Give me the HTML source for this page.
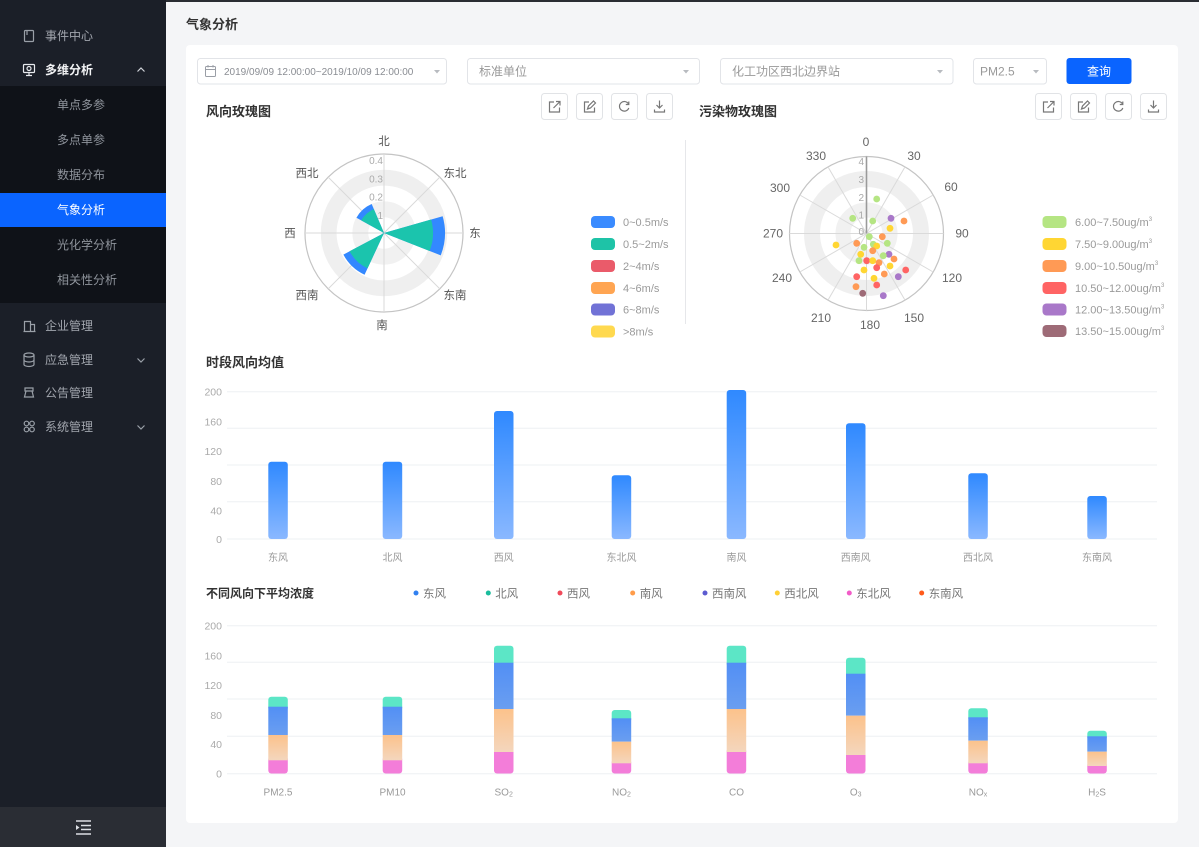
<!DOCTYPE html>
<html><head><meta charset="utf-8">
<style>
html,body{margin:0;padding:0;width:1199px;height:847px;overflow:hidden;background:#f4f5f7;}
svg{display:block;}
text{font-family:"Liberation Sans","Noto Sans CJK SC",sans-serif;}
</style></head><body>
<svg width="1199" height="847" viewBox="0 0 1199 847" xmlns="http://www.w3.org/2000/svg">
<defs>
 <linearGradient id="gb" x1="0" y1="0" x2="0" y2="1"><stop offset="0" stop-color="#2f89ff"/><stop offset="1" stop-color="#8ab8ff"/></linearGradient>
 <linearGradient id="gp" x1="0" y1="0" x2="0" y2="1"><stop offset="0" stop-color="#fcc28b"/><stop offset="1" stop-color="#f4d6bd"/></linearGradient>
 <linearGradient id="gbl" x1="0" y1="0" x2="0" y2="1"><stop offset="0" stop-color="#528ff5"/><stop offset="1" stop-color="#6a9ef0"/></linearGradient>
</defs>
<rect width="1199" height="847" fill="#f4f5f7"/>
<rect width="1199" height="2" fill="#2a2d33"/>

<!-- SIDEBAR -->
<rect x="0" y="0" width="166" height="847" fill="#1b1f28"/>
<rect x="0" y="86" width="166" height="217" fill="#0f1218"/>
<rect x="0" y="193" width="166" height="34" fill="#0a64ff"/>
<rect x="0" y="807" width="166" height="40" fill="#2a2d34"/>
<g fill="none" stroke="#9aa0a8" stroke-width="1.2">
 <rect x="24.5" y="30.5" width="9" height="11" rx="1"/>
 <line x1="27" y1="30.5" x2="27" y2="35"/>
 <rect x="23.5" y="64.5" width="11" height="8" rx="1" stroke="#e8eaee"/>
 <path d="M26 75.5h6M29 72.5v3" stroke="#e8eaee"/>
 <circle cx="29" cy="68.5" r="2" stroke="#e8eaee"/>
 <path d="M24.5 331.5v-10h6v10M30.5 324.5h4v7M23.5 331.5h12"/>
 <ellipse cx="29" cy="355" rx="5" ry="2"/><path d="M24 355v9.5c0 1 2.2 2 5 2s5-1 5-2V355M24 360c0 1 2.2 2 5 2s5-1 5-2"/>
 <path d="M25 388h8v3h-8zM26 391l-1.5 6h9L32 391"/>
 <circle cx="26.5" cy="423.5" r="2.3"/><circle cx="32" cy="423.5" r="2.3"/><circle cx="26.5" cy="429.5" r="2.3"/><circle cx="32" cy="429.5" r="2.3"/>
 <path d="M137.5 71.5l3.5-3.5 3.5 3.5" stroke="#cfd2d8"/>
 <path d="M137.5 358.5l3.5 3.5 3.5-3.5"/>
 <path d="M137.5 425.5l3.5 3.5 3.5-3.5"/>
</g>
<g font-size="12" fill="#a2a6ae">
 <text x="45" y="40">事件中心</text>
 <text x="45" y="74" fill="#f2f3f5" font-weight="bold">多维分析</text>
 <text x="57" y="109" fill="#8f949c">单点多参</text>
 <text x="57" y="144" fill="#8f949c">多点单参</text>
 <text x="57" y="179" fill="#8f949c">数据分布</text>
 <text x="57" y="214" fill="#ffffff">气象分析</text>
 <text x="57" y="249" fill="#8f949c">光化学分析</text>
 <text x="57" y="284" fill="#8f949c">相关性分析</text>
 <text x="45" y="330">企业管理</text>
 <text x="45" y="364">应急管理</text>
 <text x="45" y="397">公告管理</text>
 <text x="45" y="431">系统管理</text>
</g>
<g stroke="#dcdfe4" stroke-width="1.5">
 <line x1="76" y1="821" x2="91" y2="821"/>
 <line x1="81" y1="825.5" x2="91" y2="825.5"/>
 <line x1="81" y1="829.5" x2="91" y2="829.5"/>
 <line x1="76" y1="834" x2="91" y2="834"/>
</g>
<polygon points="76,825 79.5,827.5 76,830" fill="#dcdfe4"/>

<!-- PAGE TITLE -->
<text x="186" y="29" font-size="13" font-weight="bold" fill="#333">气象分析</text>

<!-- CARD -->
<rect x="186" y="45" width="992" height="778" rx="4" fill="#ffffff"/>

<!-- FILTER BAR -->
<g fill="#fff" stroke="#e2e4e8">
 <rect x="197.5" y="58.5" width="249" height="25.5" rx="3"/>
 <rect x="467.5" y="58.5" width="232" height="25.5" rx="3"/>
 <rect x="720.5" y="58.5" width="232.5" height="25.5" rx="3"/>
 <rect x="973.5" y="58.5" width="73" height="25.5" rx="3"/>
</g>
<g fill="none" stroke="#9a9ea6" stroke-width="1">
 <rect x="205.5" y="66.5" width="10" height="10" rx="1"/>
 <line x1="205.5" y1="69.5" x2="215.5" y2="69.5"/>
 <line x1="208" y1="65" x2="208" y2="67.5"/><line x1="213" y1="65" x2="213" y2="67.5"/>
</g>
<g fill="#b8bbc0">
 <polygon points="434,70 440,70 437,73.5"/>
 <polygon points="683,70 689,70 686,73.5"/>
 <polygon points="937,70 943,70 940,73.5"/>
 <polygon points="1033,70 1039,70 1036,73.5"/>
</g>
<text x="224" y="75" font-size="10" fill="#8a8d93">2019/09/09 12:00:00~2019/10/09 12:00:00</text>
<text x="479" y="75.5" font-size="12" fill="#999">标准单位</text>
<text x="732" y="75.5" font-size="12" fill="#999">化工功区西北边界站</text>
<text x="980" y="75.5" font-size="12" fill="#999">PM2.5</text>
<rect x="1066.5" y="58" width="65" height="26" rx="3" fill="#0a64ff"/>
<text x="1099" y="75.5" font-size="12" fill="#fff" text-anchor="middle">查询</text>

<!-- TITLES -->
<text x="206" y="116" font-size="13" font-weight="bold" fill="#333">风向玫瑰图</text>
<text x="699" y="116" font-size="13" font-weight="bold" fill="#333">污染物玫瑰图</text>

<!-- TOOL BUTTONS -->
<g fill="#fff" stroke="#e1e3e6">
 <rect x="541.5" y="93.5" width="26" height="26" rx="3"/>
 <rect x="576.5" y="93.5" width="26" height="26" rx="3"/>
 <rect x="611.5" y="93.5" width="26" height="26" rx="3"/>
 <rect x="646.5" y="93.5" width="26" height="26" rx="3"/>
 <rect x="1035.5" y="93.5" width="26" height="26" rx="3"/>
 <rect x="1070.5" y="93.5" width="26" height="26" rx="3"/>
 <rect x="1105.5" y="93.5" width="26" height="26" rx="3"/>
 <rect x="1140.5" y="93.5" width="26" height="26" rx="3"/>
</g>
<g fill="none" stroke="#777" stroke-width="1.2">
 <g id="ic1"><path d="M554 102h-4.5v10h10v-4.5M553.5 108l6-6M556 101.5h4v4"/></g>
 <path d="M589 102h-4.5v10h10v-4.5M587.5 109l1-3 5-5 2 2-5 5z"/>
 <path d="M628.5 104a4.8 4.8 0 1 0 0.3 4M628.8 101.5v3h-3"/>
 <path d="M659.5 100.5v7.5M656.5 105l3 3 3-3M654.5 109.5v2.5h10v-2.5"/>
 <path d="M1048 102h-4.5v10h10v-4.5M1047.5 108l6-6M1050 101.5h4v4"/>
 <path d="M1083 102h-4.5v10h10v-4.5M1081.5 109l1-3 5-5 2 2-5 5z"/>
 <path d="M1122.5 104a4.8 4.8 0 1 0 0.3 4M1122.8 101.5v3h-3"/>
 <path d="M1153.5 100.5v7.5M1150.5 105l3 3 3-3M1148.5 109.5v2.5h10v-2.5"/>
</g>

<line x1="685.5" y1="140" x2="685.5" y2="324" stroke="#e6e7ea"/>

<!-- WIND ROSE -->
<circle cx="384" cy="233" r="79" fill="#fff" stroke="#c4c4c4" stroke-width="1.2"/>
<circle cx="384" cy="233" r="55.3" fill="none" stroke="#efefef" stroke-width="15.8"/>
<circle cx="384" cy="233" r="23.7" fill="none" stroke="#f1f1f1" stroke-width="15.8"/>
<g stroke="#dadada" stroke-width="1">
 <line x1="384" y1="154" x2="384" y2="312"/>
 <line x1="305" y1="233" x2="463" y2="233"/>
 <line x1="439.86" y1="177.14" x2="328.14" y2="288.86"/>
 <line x1="328.14" y1="177.14" x2="439.86" y2="288.86"/>
</g>
<g font-size="10" fill="#aaa" text-anchor="end">
 <text x="383" y="164">0.4</text>
 <text x="383" y="182.5">0.3</text>
 <text x="383" y="200.5">0.2</text>
 <text x="383" y="219">1</text>
</g>
<path d="M384,233 L442.64,216.19 A61,61 0 0 1 440.75,255.36 Z" fill="#3388ff"/>
<path d="M384,233 L431.10,219.50 A49,49 0 0 1 429.59,250.96 Z" fill="#1bc4ad"/>
<path d="M384,233 L371.69,204.0 A31.5,31.5 0 0 0 356.45,217.73 Z" fill="#3388ff"/>
<path d="M384,233 L373.84,209.07 A26,26 0 0 0 361.26,220.40 Z" fill="#1bc4ad"/>
<path d="M384,233 L343.39,254.60 A46,46 0 0 0 364.56,274.69 Z" fill="#3388ff"/>
<path d="M384,233 L349.57,251.31 A39,39 0 0 0 367.52,268.35 Z" fill="#1bc4ad"/>
<g font-size="11.5" fill="#555" text-anchor="middle">
 <text x="384" y="145">北</text>
 <text x="455" y="177">东北</text>
 <text x="475" y="237">东</text>
 <text x="455" y="299">东南</text>
 <text x="382" y="329">南</text>
 <text x="307" y="299">西南</text>
 <text x="290" y="237">西</text>
 <text x="307" y="177">西北</text>
</g>
<!-- wind legend -->
<g>
 <rect x="591" y="216" width="24" height="12" rx="4" fill="#3a8bff"/>
 <rect x="591" y="238" width="24" height="12" rx="4" fill="#1ec3a7"/>
 <rect x="591" y="260" width="24" height="12" rx="4" fill="#ea5b6a"/>
 <rect x="591" y="282" width="24" height="12" rx="4" fill="#ffa552"/>
 <rect x="591" y="303.5" width="24" height="12" rx="4" fill="#7172d6"/>
 <rect x="591" y="325.5" width="24" height="12" rx="4" fill="#ffd94f"/>
</g>
<g font-size="11" fill="#9a9a9a">
 <text x="623" y="226">0~0.5m/s</text>
 <text x="623" y="248">0.5~2m/s</text>
 <text x="623" y="270">2~4m/s</text>
 <text x="623" y="292">4~6m/s</text>
 <text x="623" y="313.5">6~8m/s</text>
 <text x="623" y="335.5">&gt;8m/s</text>
</g>

<!-- POLLUTANT ROSE -->
<circle cx="866.5" cy="233.5" r="77" fill="#fff" stroke="#c4c4c4" stroke-width="1.2"/>
<circle cx="866.5" cy="233.5" r="54.5" fill="none" stroke="#efefef" stroke-width="16"/>
<circle cx="866.5" cy="233.5" r="23.5" fill="none" stroke="#f1f1f1" stroke-width="15"/>
<g stroke="#dadada" stroke-width="1">
 <line x1="866.5" y1="156.5" x2="866.5" y2="310.5"/>
 <line x1="905" y1="166.82" x2="828" y2="300.18"/>
 <line x1="933.18" y1="195" x2="799.82" y2="272"/>
 <line x1="943.5" y1="233.5" x2="789.5" y2="233.5"/>
 <line x1="933.18" y1="272" x2="799.82" y2="195"/>
 <line x1="905" y1="300.18" x2="828" y2="166.82"/>
</g>
<line x1="866.5" y1="233.5" x2="866.5" y2="156.5" stroke="#9a9a9a" stroke-width="1.6"/>
<g font-size="10" fill="#aaa" text-anchor="end">
 <text x="864" y="165">4</text>
 <text x="864" y="183">3</text>
 <text x="864" y="201">2</text>
 <text x="864" y="218.5">1</text>
 <text x="864" y="235">0</text>
</g>
<g font-size="12" fill="#666" text-anchor="middle">
 <text x="866" y="146">0</text>
 <text x="914" y="160">30</text>
 <text x="951" y="191">60</text>
 <text x="962" y="237.5">90</text>
 <text x="952" y="282">120</text>
 <text x="914" y="322">150</text>
 <text x="870" y="329">180</text>
 <text x="821" y="322">210</text>
 <text x="782" y="282">240</text>
 <text x="773" y="237.5">270</text>
 <text x="780" y="192">300</text>
 <text x="816" y="160">330</text>
</g>
<g>
 <circle cx="876.7" cy="199" r="3.4" fill="#b5e583"/>
 <circle cx="852.7" cy="218.3" r="3.4" fill="#b5e583"/>
 <circle cx="872.7" cy="221" r="3.4" fill="#b5e583"/>
 <circle cx="891" cy="218.3" r="3.4" fill="#a978c9"/>
 <circle cx="904" cy="221" r="3.4" fill="#ff9a55"/>
 <circle cx="890" cy="228.3" r="3.4" fill="#ffd633"/>
 <circle cx="869.3" cy="236.7" r="3.4" fill="#b5e583"/>
 <circle cx="882.3" cy="236.7" r="3.4" fill="#ff9a55"/>
 <circle cx="836" cy="245" r="3.4" fill="#ffd633"/>
 <circle cx="856.7" cy="243.3" r="3.4" fill="#ff9a55"/>
 <circle cx="864" cy="247.3" r="3.4" fill="#b5e583"/>
 <circle cx="873.3" cy="244.3" r="3.4" fill="#b5e583"/>
 <circle cx="876.7" cy="246" r="3.4" fill="#ffd633"/>
 <circle cx="887.3" cy="243.3" r="3.4" fill="#b5e583"/>
 <circle cx="872.7" cy="250.7" r="3.4" fill="#ff9a55"/>
 <circle cx="889" cy="254.3" r="3.4" fill="#a978c9"/>
 <circle cx="860.7" cy="254.3" r="3.4" fill="#ffd633"/>
 <circle cx="859" cy="260.7" r="3.4" fill="#b5e583"/>
 <circle cx="866.7" cy="260.7" r="3.4" fill="#ff6464"/>
 <circle cx="872.7" cy="260.7" r="3.4" fill="#ffd633"/>
 <circle cx="879" cy="262.7" r="3.4" fill="#ff9a55"/>
 <circle cx="883.3" cy="255.7" r="3.4" fill="#b5e583"/>
 <circle cx="894" cy="259" r="3.4" fill="#ff9a55"/>
 <circle cx="890" cy="266" r="3.4" fill="#ffd633"/>
 <circle cx="876.7" cy="267.7" r="3.4" fill="#ff6464"/>
 <circle cx="864" cy="270" r="3.4" fill="#ffd633"/>
 <circle cx="884.3" cy="274" r="3.4" fill="#ff9a55"/>
 <circle cx="905.7" cy="270" r="3.4" fill="#ff6464"/>
 <circle cx="898.3" cy="276.7" r="3.4" fill="#a978c9"/>
 <circle cx="856.7" cy="276.7" r="3.4" fill="#ff6464"/>
 <circle cx="874" cy="278.3" r="3.4" fill="#ffd633"/>
 <circle cx="876.7" cy="285" r="3.4" fill="#ff6464"/>
 <circle cx="856" cy="286.7" r="3.4" fill="#ff9a55"/>
 <circle cx="862.7" cy="293.3" r="3.4" fill="#9e6b77"/>
 <circle cx="883.3" cy="295.7" r="3.4" fill="#a978c9"/>
</g>
<!-- pollutant legend -->
<g>
 <rect x="1042.5" y="216" width="24" height="12" rx="4" fill="#b5e583"/>
 <rect x="1042.5" y="238" width="24" height="12" rx="4" fill="#ffd633"/>
 <rect x="1042.5" y="260" width="24" height="12" rx="4" fill="#ff9a55"/>
 <rect x="1042.5" y="282" width="24" height="12" rx="4" fill="#ff6464"/>
 <rect x="1042.5" y="303.5" width="24" height="12" rx="4" fill="#a978c9"/>
 <rect x="1042.5" y="325" width="24" height="12" rx="4" fill="#9e6b77"/>
</g>
<g font-size="11" fill="#9a9a9a">
 <text x="1075" y="226">6.00~7.50ug/m<tspan font-size="6" dy="-5">3</tspan></text>
 <text x="1075" y="248">7.50~9.00ug/m<tspan font-size="6" dy="-5">3</tspan></text>
 <text x="1075" y="270">9.00~10.50ug/m<tspan font-size="6" dy="-5">3</tspan></text>
 <text x="1075" y="292">10.50~12.00ug/m<tspan font-size="6" dy="-5">3</tspan></text>
 <text x="1075" y="313.5">12.00~13.50ug/m<tspan font-size="6" dy="-5">3</tspan></text>
 <text x="1075" y="335">13.50~15.00ug/m<tspan font-size="6" dy="-5">3</tspan></text>
</g>

<!-- CHART 1 -->
<text x="206" y="367" font-size="13" font-weight="bold" fill="#333">时段风向均值</text>
<g stroke="#eef0f3" stroke-width="1">
 <line x1="227" y1="391.7" x2="1157" y2="391.7"/>
 <line x1="227" y1="428.3" x2="1157" y2="428.3"/>
 <line x1="227" y1="465" x2="1157" y2="465"/>
 <line x1="227" y1="501.7" x2="1157" y2="501.7"/>
 <line x1="227" y1="539" x2="1157" y2="539"/>
</g>
<g font-size="10.5" fill="#aaa" text-anchor="end">
 <text x="222" y="395.5">200</text>
 <text x="222" y="425.5">160</text>
 <text x="222" y="455">120</text>
 <text x="222" y="485">80</text>
 <text x="222" y="514.5">40</text>
 <text x="222" y="543">0</text>
</g>
<g fill="url(#gb)">
 <rect x="268.3" y="461.7" width="19.5" height="77.3" rx="3"/>
 <rect x="382.7" y="461.7" width="19.5" height="77.3" rx="3"/>
 <rect x="494" y="411" width="19.5" height="128" rx="3"/>
 <rect x="611.7" y="475.3" width="19.5" height="63.7" rx="3"/>
 <rect x="726.7" y="390" width="19.5" height="149" rx="3"/>
 <rect x="846" y="423.3" width="19.5" height="115.7" rx="3"/>
 <rect x="968.3" y="473.3" width="19.5" height="65.7" rx="3"/>
 <rect x="1087.3" y="496" width="19.5" height="43" rx="3"/>
</g>
<g font-size="10" fill="#999" text-anchor="middle">
 <text x="278" y="561">东风</text>
 <text x="392.5" y="561">北风</text>
 <text x="503.7" y="561">西风</text>
 <text x="621.5" y="561">东北风</text>
 <text x="736.5" y="561">南风</text>
 <text x="855.7" y="561">西南风</text>
 <text x="978" y="561">西北风</text>
 <text x="1097" y="561">东南风</text>
</g>

<!-- CHART 2 -->
<text x="206" y="597.5" font-size="12" font-weight="bold" fill="#333">不同风向下平均浓度</text>
<g font-size="11.5" fill="#777">
 <circle cx="416" cy="593" r="2.5" fill="#3080f0"/><text x="423" y="597.5">东风</text>
 <circle cx="488.3" cy="593" r="2.5" fill="#1abc9c"/><text x="495.3" y="597.5">北风</text>
 <circle cx="560" cy="593" r="2.5" fill="#f04a5a"/><text x="567" y="597.5">西风</text>
 <circle cx="632.7" cy="593" r="2.5" fill="#ff9c4a"/><text x="639.7" y="597.5">南风</text>
 <circle cx="705" cy="593" r="2.5" fill="#5c5bd0"/><text x="712" y="597.5">西南风</text>
 <circle cx="777.3" cy="593" r="2.5" fill="#ffd035"/><text x="784.3" y="597.5">西北风</text>
 <circle cx="849.3" cy="593" r="2.5" fill="#f25cc8"/><text x="856.3" y="597.5">东北风</text>
 <circle cx="921.7" cy="593" r="2.5" fill="#ff5a1a"/><text x="928.7" y="597.5">东南风</text>
</g>
<g stroke="#eef0f3" stroke-width="1">
 <line x1="227" y1="625.7" x2="1157" y2="625.7"/>
 <line x1="227" y1="662.3" x2="1157" y2="662.3"/>
 <line x1="227" y1="699" x2="1157" y2="699"/>
 <line x1="227" y1="736.3" x2="1157" y2="736.3"/>
 <line x1="227" y1="773.7" x2="1157" y2="773.7"/>
</g>
<g font-size="10.5" fill="#aaa" text-anchor="end">
 <text x="222" y="629.5">200</text>
 <text x="222" y="659.5">160</text>
 <text x="222" y="689">120</text>
 <text x="222" y="719">80</text>
 <text x="222" y="748">40</text>
 <text x="222" y="777.5">0</text>
</g>
<!-- stacked bars: teal top, pink bottom (rounded), then blue, peach -->
<g>
 <!-- PM2.5 -->
 <rect x="268.3" y="696.7" width="19.5" height="14" rx="3" fill="#5ce6c6"/>
 <rect x="268.3" y="756.3" width="19.5" height="17.2" rx="3" fill="#f37dd9"/>
 <rect x="268.3" y="706.7" width="19.5" height="28.3" fill="url(#gbl)"/>
 <rect x="268.3" y="735" width="19.5" height="25.3" fill="url(#gp)"/>
 <!-- PM10 -->
 <rect x="382.7" y="696.7" width="19.5" height="14" rx="3" fill="#5ce6c6"/>
 <rect x="382.7" y="756.3" width="19.5" height="17.2" rx="3" fill="#f37dd9"/>
 <rect x="382.7" y="706.7" width="19.5" height="28.3" fill="url(#gbl)"/>
 <rect x="382.7" y="735" width="19.5" height="25.3" fill="url(#gp)"/>
 <!-- SO2 -->
 <rect x="494" y="645.7" width="19.5" height="21" rx="3" fill="#5ce6c6"/>
 <rect x="494" y="748" width="19.5" height="25.5" rx="3" fill="#f37dd9"/>
 <rect x="494" y="662.7" width="19.5" height="46.3" fill="url(#gbl)"/>
 <rect x="494" y="709" width="19.5" height="43" fill="url(#gp)"/>
 <!-- NO2 -->
 <rect x="611.7" y="710" width="19.5" height="12.3" rx="3" fill="#5ce6c6"/>
 <rect x="611.7" y="759.3" width="19.5" height="14.2" rx="3" fill="#f37dd9"/>
 <rect x="611.7" y="718.3" width="19.5" height="23.4" fill="url(#gbl)"/>
 <rect x="611.7" y="741.7" width="19.5" height="21.6" fill="url(#gp)"/>
 <!-- CO -->
 <rect x="726.7" y="645.7" width="19.5" height="21" rx="3" fill="#5ce6c6"/>
 <rect x="726.7" y="748" width="19.5" height="25.5" rx="3" fill="#f37dd9"/>
 <rect x="726.7" y="662.7" width="19.5" height="46.3" fill="url(#gbl)"/>
 <rect x="726.7" y="709" width="19.5" height="43" fill="url(#gp)"/>
 <!-- O3 -->
 <rect x="846" y="657.7" width="19.5" height="20" rx="3" fill="#5ce6c6"/>
 <rect x="846" y="751" width="19.5" height="22.5" rx="3" fill="#f37dd9"/>
 <rect x="846" y="673.7" width="19.5" height="42" fill="url(#gbl)"/>
 <rect x="846" y="715.7" width="19.5" height="39.3" fill="url(#gp)"/>
 <!-- NOx -->
 <rect x="968.3" y="708.3" width="19.5" height="13" rx="3" fill="#5ce6c6"/>
 <rect x="968.3" y="759.3" width="19.5" height="14.2" rx="3" fill="#f37dd9"/>
 <rect x="968.3" y="717.3" width="19.5" height="23.4" fill="url(#gbl)"/>
 <rect x="968.3" y="740.7" width="19.5" height="22.6" fill="url(#gp)"/>
 <!-- H2S -->
 <rect x="1087.3" y="730.7" width="19.5" height="9.6" rx="3" fill="#5ce6c6"/>
 <rect x="1087.3" y="762" width="19.5" height="11.5" rx="3" fill="#f37dd9"/>
 <rect x="1087.3" y="736.3" width="19.5" height="15.4" fill="url(#gbl)"/>
 <rect x="1087.3" y="751.7" width="19.5" height="14.3" fill="url(#gp)"/>
</g>
<g font-size="10" fill="#999" text-anchor="middle">
 <text x="278" y="795.5">PM2.5</text>
 <text x="392.5" y="795.5">PM10</text>
 <text x="503.7" y="795.5">SO<tspan font-size="7" dy="1">2</tspan></text>
 <text x="621.5" y="795.5">NO<tspan font-size="7" dy="1">2</tspan></text>
 <text x="736.5" y="795.5">CO</text>
 <text x="855.7" y="795.5">O<tspan font-size="7" dy="1">3</tspan></text>
 <text x="978" y="795.5">NO<tspan font-size="7" dy="1">x</tspan></text>
 <text x="1097" y="795.5">H<tspan font-size="7" dy="1">2</tspan><tspan dy="-1">S</tspan></text>
</g>
</svg>
</body></html>
